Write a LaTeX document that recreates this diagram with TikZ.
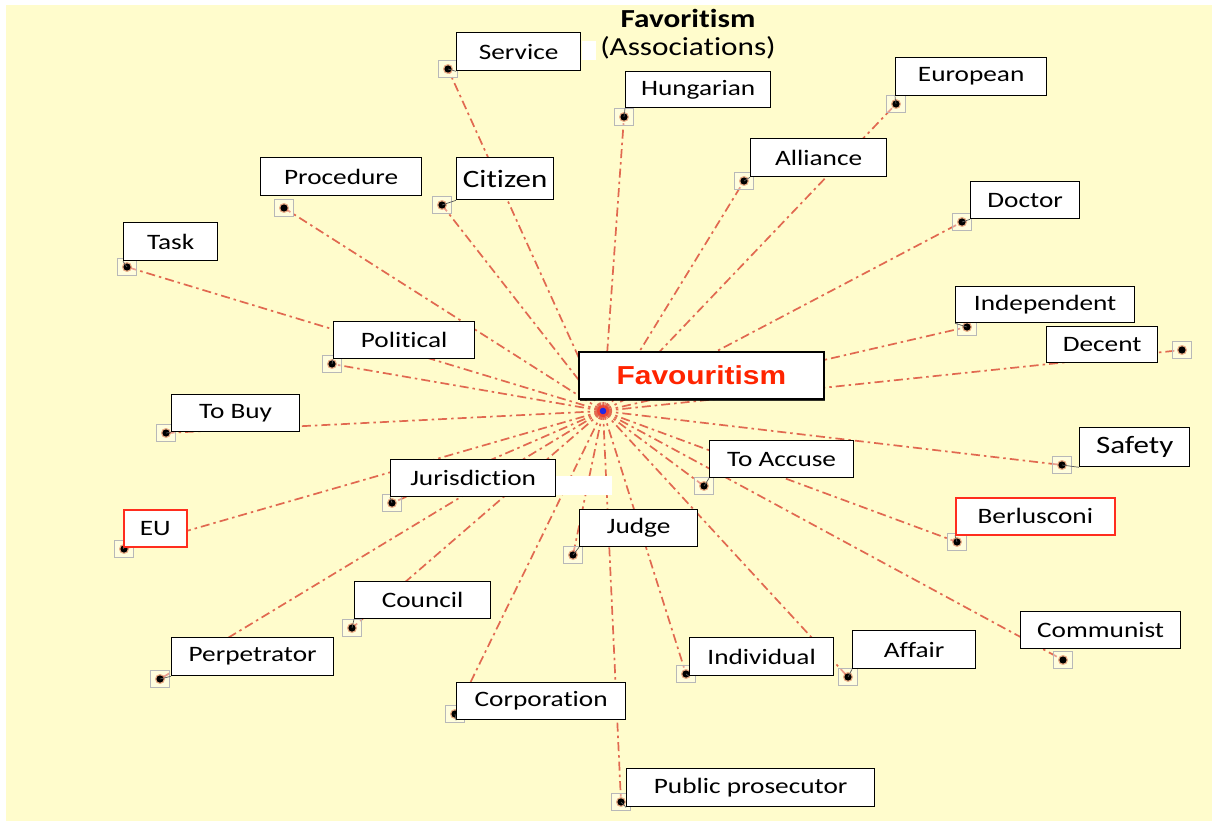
\documentclass[tikz,border=0pt]{standalone}
\usepackage{fontspec}
\usetikzlibrary{shadows}
\newfontfamily\lblfont[FakeStretch=1.24,Ligatures=NoCommon]{Carlito}
\newfontfamily\ttlfont[FakeStretch=1.2,Ligatures=NoCommon]{Carlito}
\newfontfamily\hubfont[FakeStretch=1.15]{Liberation Sans}
\definecolor{paper}{RGB}{255,252,204}
\definecolor{linkc}{RGB}{225,105,80}
\definecolor{alertc}{RGB}{255,45,30}
\definecolor{hubtext}{RGB}{255,36,0}
\definecolor{hubdot}{RGB}{30,40,230}
\pgfdeclarelayer{paperlayer}
\pgfdeclarelayer{bg}
\pgfsetlayers{paperlayer,bg,main}
\tikzset{
  box/.style={draw=black, line width=1.3pt, fill=white, inner sep=0pt,
    anchor=north west, font=\lblfont\fontsize{22}{24}\selectfont},
  bigbox/.style={box, font=\lblfont\fontsize{25}{27}\selectfont},
  redbox/.style={box, draw=alertc, line width=1.6pt},
  sz/.style 2 args={minimum width=#1pt, minimum height=#2pt},
  marker/.style={draw=black!28, line width=1pt, fill=white, fill opacity=0.35,
    minimum width=19pt, minimum height=17pt, inner sep=0pt},
  link/.style={draw=linkc, line width=1.7pt,
    dash pattern=on 9pt off 4pt on 2.5pt off 4pt},
  leader/.style={draw=black!65, line width=0.7pt},
}
\begin{document}
\begin{tikzpicture}[x=1pt,y=-1pt]
\useasboundingbox (0,0) rectangle (1212,821);
\begin{pgfonlayer}{paperlayer}
\fill[paper] (6,5) rectangle (1212,821);
\end{pgfonlayer}

% title
\node[font=\ttlfont\bfseries\fontsize{26}{28}\selectfont] (title) at (688,18) {Favoritism};
\node[font=\ttlfont\fontsize{26}{28}\selectfont] (subtitle) at (688,48) {(Associations)};

% hub of the star
\coordinate (hub) at (603,411);

% end markers of the spokes
\foreach \n/\x/\y in {
  service/448/69, hungarian/624/117, european/896/104, alliance/744/181,
  doctor/962/222, procedure/284/208, citizen/442/205, task/127/267,
  political/332/364, independent/967/327, decent/1182/350, tobuy/166/433,
  safety/1062/465, toaccuse/704/486, jurisdiction/392/503, eu/124/549,
  berlusconi/957/542, judge/573/555, council/352/628, communist/1063/660,
  perpetrator/160/679, individual/686/674, affair/848/677,
  corporation/455/714, prosecutor/621/802}
  {\node[marker] (m-\n) at (\x,\y) {};}

% spokes from the hub to every marker
\begin{pgfonlayer}{bg}
\foreach \n in {service, hungarian, european, alliance, doctor, procedure,
  citizen, task, political, independent, decent, tobuy, safety, toaccuse,
  jurisdiction, eu, berlusconi, judge, council, communist, perpetrator,
  individual, affair, corporation, prosecutor}
  {\draw[link] (hub) -- (m-\n.center);}
\end{pgfonlayer}

% burst around the hub
\foreach \a in {0,12,...,348}
  {\draw[linkc, line width=0.9pt, opacity=0.8] (hub) -- ++(\a:9pt);}
\fill[red, opacity=0.35] (hub) circle (6pt);
\fill[hubdot] (hub) circle (3.3pt);

% dots inside the markers
\foreach \n in {service, hungarian, european, alliance, doctor, procedure,
  citizen, task, political, independent, decent, tobuy, safety, toaccuse,
  jurisdiction, eu, berlusconi, judge, council, communist, perpetrator,
  individual, affair, corporation, prosecutor}
  {\fill[brown!70!red, opacity=0.5] (m-\n.center) circle (5pt);
   \fill[black] (m-\n.center) circle (3.6pt);}

% white label backdrops
\fill[white] (582,41) rectangle (596,60);
\fill[white] (555,476) rectangle (612,495);

% word boxes
\node[box, sz={124}{38}] (service) at (456,32) {Service};
\node[box, sz={145}{36}] (hungarian) at (625,71) {Hungarian};
\node[box, sz={151}{38}] (european) at (895,57) {European};
\node[box, sz={136}{38}] (alliance) at (750,138) {Alliance};
\node[box, sz={109}{37}] (doctor) at (970,181) {Doctor};
\node[box, sz={161}{38}] (procedure) at (260,157) {Procedure};
\node[bigbox, sz={97}{42}] (citizen) at (456,157) {Citizen};
\node[box, sz={94}{38}] (task) at (123,222) {Task};
\node[box, sz={141}{37}] (political) at (333,321) {Political};
\node[box, sz={179}{36}] (independent) at (955,286) {Independent};
\node[box, sz={111}{36}] (decent) at (1046,326) {Decent};
\node[box, sz={128}{37}] (tobuy) at (171,394) {To Buy};
\node[bigbox, sz={110}{39}] (safety) at (1079,427) {Safety};
\node[box, sz={144}{37}] (toaccuse) at (709,440) {To Accuse};
\node[box, sz={165}{37}] (jurisdiction) at (390,459) {Jurisdiction};
\node[redbox, sz={63}{37}] (eu) at (123,509) {EU};
\node[redbox, sz={159}{37}] (berlusconi) at (955,497) {Berlusconi};
\node[box, sz={118}{37}] (judge) at (579,509) {Judge};
\node[box, sz={136}{37}] (council) at (354,581) {Council};
\node[box, sz={160}{37}] (communist) at (1020,611) {Communist};
\node[box, sz={162}{38}] (perpetrator) at (171,637) {Perpetrator};
\node[box, sz={144}{38}] (individual) at (689,637) {Individual};
\node[box, sz={123}{38}] (affair) at (852,630) {Affair};
\node[box, sz={169}{37}] (corporation) at (456,682) {Corporation};
\node[box, sz={248}{38}] (prosecutor) at (626,768) {Public prosecutor};

% short leaders from each marker dot to its box
\foreach \n in {service, hungarian, european, alliance, doctor,
  citizen, task, political, independent, tobuy, safety, toaccuse,
  jurisdiction, eu, berlusconi, judge, council, perpetrator,
  individual, affair, corporation, prosecutor}
  {\draw[leader] (m-\n.center) -- (\n.south west);}

% central word
\node[box, sz={245}{47}, line width=1.8pt,
  drop shadow={shadow xshift=1.5pt, shadow yshift=-2pt, fill=black, opacity=0.8},
  font=\hubfont\bfseries\fontsize{26}{28}\selectfont, text=hubtext]
  (center) at (578,351) {Favouritism};
\end{tikzpicture}
\end{document}
